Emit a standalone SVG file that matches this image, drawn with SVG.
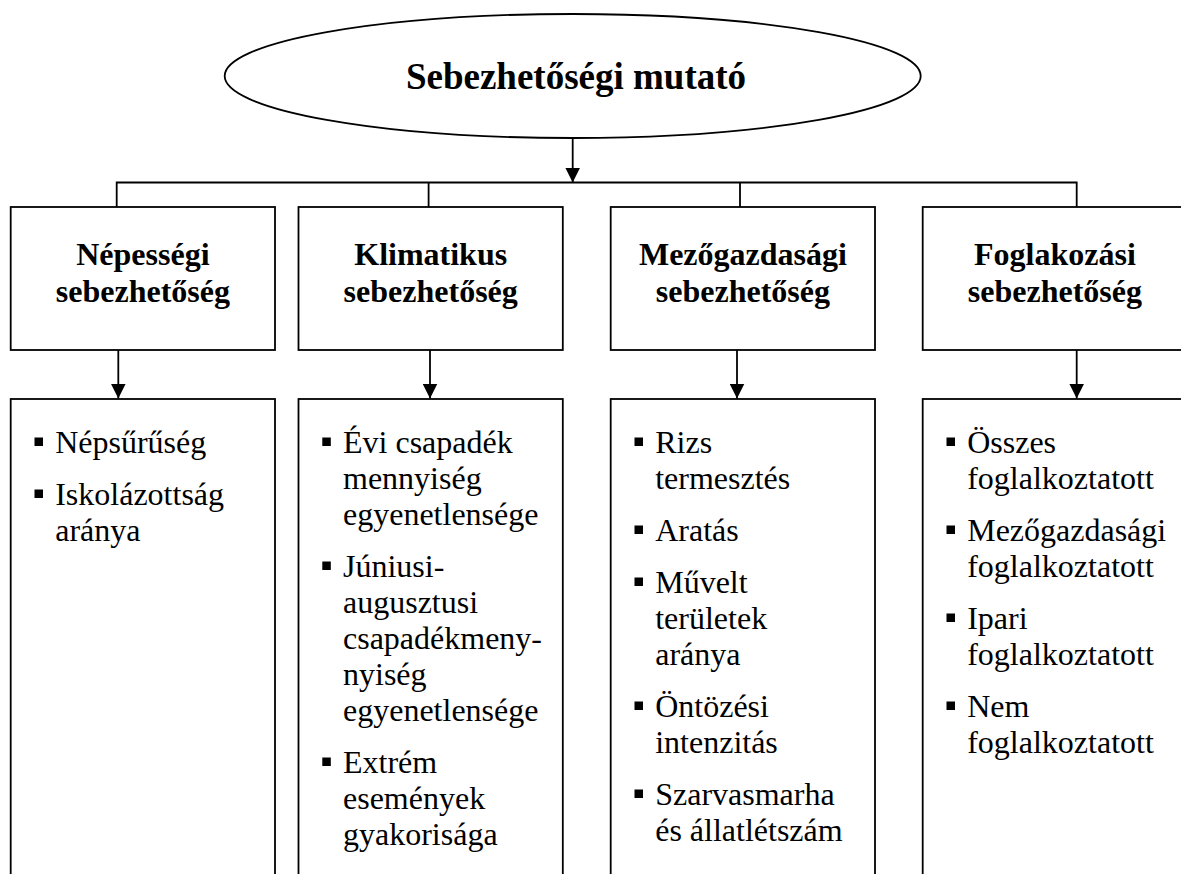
<svg xmlns="http://www.w3.org/2000/svg" width="1181" height="874" viewBox="0 0 1181 874">
<defs>
<marker id="ah" markerWidth="15" markerHeight="15" refX="15" refY="7.5" orient="auto" markerUnits="userSpaceOnUse">
<path d="M0,0 L15,7.5 L0,15 Z" fill="#000"/>
</marker>
<style>
.ln{fill:none;stroke:#000;stroke-width:1.8}
.bx{fill:#fff;stroke:#000;stroke-width:1.8}
.hd{font-family:"Liberation Serif","Times New Roman",serif;font-weight:bold;font-size:32px;text-anchor:middle;fill:#000}
.tt{font-family:"Liberation Serif","Times New Roman",serif;font-weight:bold;font-size:37px;text-anchor:middle;fill:#000}
.it{font-family:"Liberation Serif","Times New Roman",serif;font-size:32px;fill:#000}
.bu{fill:#000}
</style>
</defs>
<rect width="1181" height="874" fill="#fff"/>
<g id="connectors">
<line class="ln" x1="572.7" y1="138" x2="572.7" y2="182.5" marker-end="url(#ah)"/>
<polyline class="ln" points="116.7,207 116.7,182.5 1076.7,182.5 1076.7,207"/>
<line class="ln" x1="428.6" y1="182.5" x2="428.6" y2="207"/>
<line class="ln" x1="740" y1="182.5" x2="740" y2="207"/>
<line class="ln" x1="118.3" y1="350" x2="118.3" y2="398.5" marker-end="url(#ah)"/>
<line class="ln" x1="430" y1="350" x2="430" y2="398.5" marker-end="url(#ah)"/>
<line class="ln" x1="737" y1="350" x2="737" y2="398.5" marker-end="url(#ah)"/>
<line class="ln" x1="1076.7" y1="350" x2="1076.7" y2="398.5" marker-end="url(#ah)"/>
</g>
<g id="root">
<ellipse class="bx" cx="572.7" cy="76" rx="348" ry="62"/>
<text class="tt" x="576" y="89">Sebezhetőségi mutató</text>
</g>
<g id="h1"><rect class="bx" x="10.7" y="207" width="264.3" height="143"/>
<text class="hd" x="142.9" y="265">Népességi</text><text class="hd" x="142.9" y="302">sebezhetőség</text></g>
<g id="h2"><rect class="bx" x="298.5" y="207" width="264.3" height="143"/>
<text class="hd" x="430.7" y="265">Klimatikus</text><text class="hd" x="430.7" y="302">sebezhetőség</text></g>
<g id="h3"><rect class="bx" x="610.7" y="207" width="264.3" height="143"/>
<text class="hd" x="742.9" y="265">Mezőgazdasági</text><text class="hd" x="742.9" y="302">sebezhetőség</text></g>
<g id="h4"><rect class="bx" x="922.7" y="207" width="264.3" height="143"/>
<text class="hd" x="1054.9" y="265">Foglakozási</text><text class="hd" x="1054.9" y="302">sebezhetőség</text></g>
<g id="l1"><rect class="bx" x="10.7" y="399" width="264.3" height="490"/>
<rect class="bu" x="34.5" y="437.5" width="8.5" height="8.5"/><text class="it" x="55.2" y="453">Népsűrűség</text>
<rect class="bu" x="34.5" y="489.5" width="8.5" height="8.5"/><text class="it" x="55.2" y="505">Iskolázottság</text><text class="it" x="55.2" y="541">aránya</text>
</g>
<g id="l2"><rect class="bx" x="298.5" y="399" width="264.3" height="490"/>
<rect class="bu" x="322.3" y="437.5" width="8.5" height="8.5"/><text class="it" x="343" y="453">Évi csapadék</text><text class="it" x="343" y="489">mennyiség</text><text class="it" x="343" y="525">egyenetlensége</text>
<rect class="bu" x="322.3" y="561.5" width="8.5" height="8.5"/><text class="it" x="343" y="577">Júniusi-</text><text class="it" x="343" y="613">augusztusi</text><text class="it" x="343" y="649">csapadékmeny-</text><text class="it" x="343" y="685">nyiség</text><text class="it" x="343" y="721">egyenetlensége</text>
<rect class="bu" x="322.3" y="757.5" width="8.5" height="8.5"/><text class="it" x="343" y="773">Extrém</text><text class="it" x="343" y="809">események</text><text class="it" x="343" y="845">gyakorisága</text>
</g>
<g id="l3"><rect class="bx" x="610.7" y="399" width="264.3" height="490"/>
<rect class="bu" x="634.5" y="437.5" width="8.5" height="8.5"/><text class="it" x="655.2" y="453">Rizs</text><text class="it" x="655.2" y="489">termesztés</text>
<rect class="bu" x="634.5" y="525.5" width="8.5" height="8.5"/><text class="it" x="655.2" y="541">Aratás</text>
<rect class="bu" x="634.5" y="577.5" width="8.5" height="8.5"/><text class="it" x="655.2" y="593">Művelt</text><text class="it" x="655.2" y="629">területek</text><text class="it" x="655.2" y="665">aránya</text>
<rect class="bu" x="634.5" y="701.5" width="8.5" height="8.5"/><text class="it" x="655.2" y="717">Öntözési</text><text class="it" x="655.2" y="753">intenzitás</text>
<rect class="bu" x="634.5" y="789.5" width="8.5" height="8.5"/><text class="it" x="655.2" y="805">Szarvasmarha</text><text class="it" x="655.2" y="841">és állatlétszám</text>
</g>
<g id="l4"><rect class="bx" x="922.7" y="399" width="264.3" height="490"/>
<rect class="bu" x="946.5" y="437.5" width="8.5" height="8.5"/><text class="it" x="967.2" y="453">Összes</text><text class="it" x="967.2" y="489">foglalkoztatott</text>
<rect class="bu" x="946.5" y="525.5" width="8.5" height="8.5"/><text class="it" x="967.2" y="541">Mezőgazdasági</text><text class="it" x="967.2" y="577">foglalkoztatott</text>
<rect class="bu" x="946.5" y="613.5" width="8.5" height="8.5"/><text class="it" x="967.2" y="629">Ipari</text><text class="it" x="967.2" y="665">foglalkoztatott</text>
<rect class="bu" x="946.5" y="701.5" width="8.5" height="8.5"/><text class="it" x="967.2" y="717">Nem</text><text class="it" x="967.2" y="753">foglalkoztatott</text>
</g>
</svg>
